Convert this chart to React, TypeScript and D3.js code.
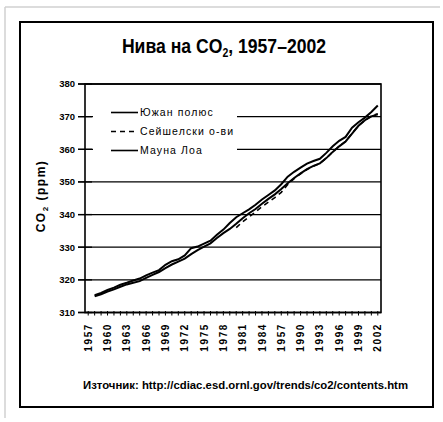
import React from 'react';
import * as d3 from 'd3';

const years = d3.range(1958, 2003);
const maunaLoa = [315.3, 316.0, 316.9, 317.6, 318.5, 319.1, 319.8, 320.4, 321.4, 322.2, 323.0, 324.6, 325.7, 326.3, 327.5, 329.7, 330.2, 331.1, 332.0, 333.8, 335.4, 337.4, 339.2, 340.4, 341.6, 343.0, 344.6, 346.0, 347.4, 349.3, 351.6, 353.1, 354.4, 355.6, 356.4, 357.1, 358.9, 360.9, 362.6, 363.8, 366.6, 368.3, 369.7, 371.4, 373.4];
const southPole = [315.0, 315.6, 316.4, 317.1, 317.9, 318.6, 319.1, 319.6, 320.6, 321.5, 322.4, 323.6, 324.7, 325.6, 326.5, 327.9, 329.1, 330.2, 331.2, 332.8, 334.3, 335.6, 337.2, 338.9, 340.4, 341.7, 343.3, 344.8, 346.2, 347.8, 349.6, 351.2, 352.6, 353.9, 354.9, 355.7, 357.3, 359.2, 360.9, 362.4, 364.8, 367.2, 368.9, 370.1, 370.7];
const seyYears = d3.range(1980, 2003);
const seychelles = [336.0, 337.8, 339.3, 340.8, 342.4, 343.8, 345.2, 346.8, 349.2, 351.0, 352.5, 353.8, 354.8, 355.7, 357.3, 359.2, 360.9, 362.4, 364.9, 367.2, 368.9, 370.2, 370.9];
const yTicks = [310, 320, 330, 340, 350, 360, 370, 380];
const xLabelYears = [1957, 1960, 1963, 1966, 1969, 1972, 1975, 1978, 1981, 1984, 1987, 1990, 1993, 1996, 1999, 2002];
const xLabels = ['1957', '1960', '1963', '1966', '1969', '1972', '1975', '1978', '1981', '1984', '1957', '1990', '1993', '1996', '1999', '2002'];
const allYears = d3.range(1957, 2003);
const legendLabels = ['Южан полюс', 'Сейшелски о-ви', 'Мауна Лоа'];
const legendDash = ['none', '5,4', 'none'];

const W = 443, H = 422;
const left = 85, right = 381, top = 84, bottom = 312.5;

export default function App() {
  const x = d3.scaleLinear().domain([1956.5, 2002.5]).range([left, right]);
  const y = d3.scaleLinear().domain([310, 380]).range([bottom, top]);
  const line = d3.line<[number, number]>().x(d => x(d[0])).y(d => y(d[1]));
  const ml = line(years.map((yr, i) => [yr, maunaLoa[i]] as [number, number])) || '';
  const sp = line(years.map((yr, i) => [yr, southPole[i]] as [number, number])) || '';
  const sy = line(seyYears.map((yr, i) => [yr, seychelles[i]] as [number, number])) || '';
  const sans = "'Liberation Sans', Arial, sans-serif";
  return (
    <svg width={W} height={H} style={{ position: 'absolute', left: 0, top: 0, background: '#fff' }}>
      <line x1={5} y1={7} x2={440} y2={7} stroke="#d0d0d0" strokeWidth={1.5} />
      <line x1={5} y1={7} x2={5} y2={418} stroke="#d0d0d0" strokeWidth={1.5} />
      <rect x={20} y={22} width={413} height={385} fill="#fff" stroke="#000" strokeWidth={2} />
      <g transform="translate(224,53) scale(0.88,1)">
        <text x={0} y={0} textAnchor="middle" fontFamily={sans} fontWeight="bold" fontSize={20}>
          Нива на CO<tspan fontSize={12} dy={4}>2</tspan><tspan dy={-4}>, 1957–2002</tspan>
        </text>
      </g>
      {yTicks.map(t => (
        <line key={'g' + t} x1={78} x2={right} y1={y(t)} y2={y(t)} stroke="#000" strokeWidth={1.3} />
      ))}
      <rect x={93} y={100} width={144} height={60} fill="#fff" />
      {yTicks.map(t => (
        <line key={'t' + t} x1={78} x2={92} y1={y(t)} y2={y(t)} stroke="#000" strokeWidth={1.3} />
      ))}
      <rect x={left} y={top} width={right - left} height={bottom - top} fill="none" stroke="#000" strokeWidth={1.6} />
      {yTicks.map(t => (
        <text key={'yl' + t} x={75} y={y(t)} dy="0.35em" textAnchor="end" fontFamily={sans} fontWeight="bold" fontSize={9.5}>{t}</text>
      ))}
      {allYears.map(yr => (
        <line key={'xt' + yr} x1={x(yr)} x2={x(yr)} y1={bottom - 1.5} y2={bottom + 3} stroke="#000" strokeWidth={1} />
      ))}
      {xLabelYears.map((yr, i) => (
        <text key={'xl' + i} transform={`translate(${x(yr)},323) rotate(-90)`} dy="0.36em" textAnchor="end" fontFamily={sans} fontWeight="bold" fontSize={10} letterSpacing={1.6}>{xLabels[i]}</text>
      ))}
      <text transform="translate(41,196) rotate(-90)" textAnchor="middle" dy="0.35em" fontFamily={sans} fontWeight="bold" fontSize={12} letterSpacing={1.5}>
        CO<tspan fontSize={8} dy={3}>2</tspan><tspan dy={-3}> (ppm)</tspan>
      </text>
      <path d={sp} fill="none" stroke="#000" strokeWidth={2} />
      <path d={sy} fill="none" stroke="#000" strokeWidth={1.6} strokeDasharray="5,4" />
      <path d={ml} fill="none" stroke="#000" strokeWidth={2} />
      {legendLabels.map((lab, i) => {
        const ly = 112.5 + i * 19;
        return (
          <g key={'lg' + i}>
            <line x1={111} x2={138} y1={ly} y2={ly} stroke="#000" strokeWidth={1.6} strokeDasharray={legendDash[i]} />
            <text x={140} y={ly} dy="0.35em" fontFamily={sans} fontSize={10.5} letterSpacing={1.1}>{lab}</text>
          </g>
        );
      })}
      <text x={83} y={389} fontFamily={sans} fontWeight="bold" fontSize={10.5} textLength={325} lengthAdjust="spacingAndGlyphs">
        Източник: http://cdiac.esd.ornl.gov/trends/co2/contents.htm
      </text>
    </svg>
  );
}
